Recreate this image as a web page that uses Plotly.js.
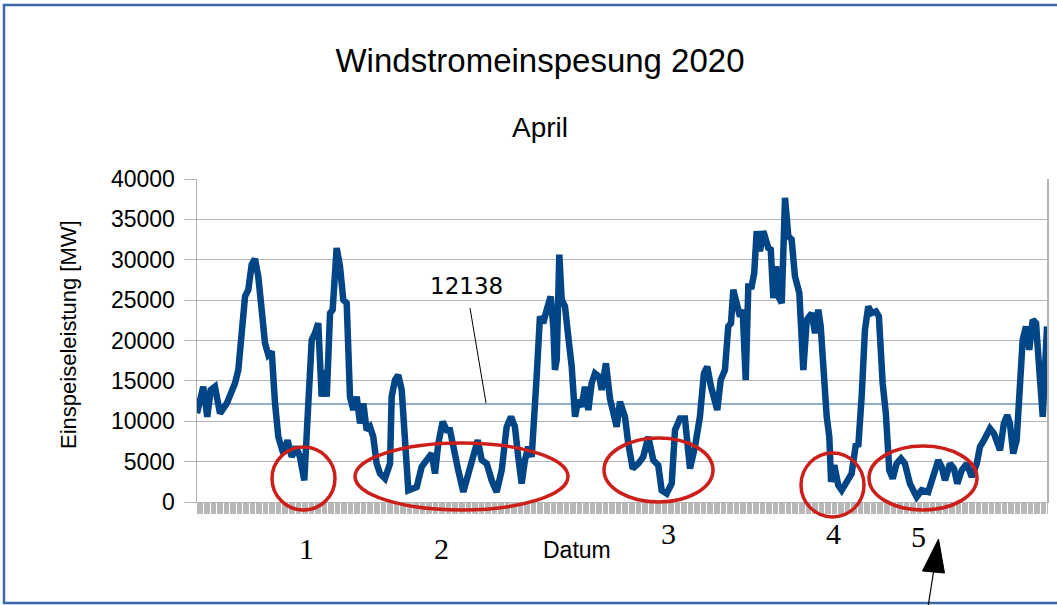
<!DOCTYPE html>
<html><head><meta charset="utf-8">
<script src="https://cdn.plot.ly/plotly-3.0.1.min.js"></script>
<style>html,body{margin:0;padding:0;background:#fff}#chart{width:1057px;height:605px}</style>
</head><body><div id="chart"></div>
<script>
// Stunden seit 1. April 00:00
const hours = [0,5.3,8.7,11.6,15.2,19.5,25.2,29.4,32.2,35.0,37.9,40.7,43.5,46.3,49.1,51.9,54.8,57.6,60.4,63.3,66.1,68.9,73.1,76.8,80.2,83.9,87.2,90.9,94.3,97.2,99.9,102.7,105.6,107.8,109.9,112.7,114.9,118.3,121.1,123.9,126.8,129.6,132.4,135.3,138.1,140.9,143.7,146.5,149.3,152.2,155.0,159.2,163.5,164.9,167.7,170.5,173.4,176.2,179.0,
186.1,190.3,194.5,198.8,201.6,204.4,208.1,211.5,214.3,217.1,221.3,225.6,229.8,234.0,237.8,241.2,245.4,249.6,253.8,258.1,262.3,266.0,269.3,272.1,275.0,277.8,280.6,283.5,284.8,287.7,290.5,293.3,296.2,299.6,301.8,303.2,304.7,306.9,308.9,311.7,314.5,317.4,320.2,323.0,325.8,328.6,331.5,334.3,337.1,340.8,342.8,346.4,349.8,352.6,355.5,358.3,
362.5,365.3,369.1,373.8,378.0,382.3,386.5,390.7,393.6,397.8,402.1,404.9,409.1,413.3,417.6,421.8,426.0,429.4,432.2,435.4,437.3,440.7,443.6,447.2,450.0,452.3,454.3,457.1,459.9,462.2,464.8,467.0,469.8,472.0,474.1,476.9,479.7,483.9,486.0,488.2,490.5,492.4,495.3,498.1,500.9,503.7,506.5,510.2,513.6,516.5,520.7,523.5,526.3,
528.3,530.5,533.4,535.6,537.1,539.8,543.2,546.1,550.3,554.5,558.2,560.1,563.0,565.8,568.6,571.4,575.1,577.6,580.8,583.5,586.4,589.3,592.6,596.3,599.6,603.9,609.6,613.8,619.4,623.7,627.9,630.8,633.6,637.8,641.2,644.0,647.8,652.0,656.3,660.5,663.2,666.6,671.7,675.1,677.3,680.2,683.5,686.3,688.6,691.4,694.3,697.1,699.4,702.2,705.0,707.9,710.7,713.5,716.4,720];
// Einspeiseleistung in MW
const mw = [11000,14280,10560,13870,14280,10970,12210,13450,14700,16350,21320,25460,26290,29390,30100,27950,23800,19670,18220,18630,12210,8070,6000,7660,5590,6830,5590,2690,12210,20080,20900,22150,13040,16350,13040,23390,23800,31460,29190,25050,24630,13040,11390,13040,9730,12210,8900,9310,8070,4760,3520,2900,4760,13040,15110,15730,13870,6000,1450,
1860,4350,5180,6000,3520,7250,9940,8900,8900,6420,3930,1240,3520,5180,7660,5180,4760,2690,1240,3930,9310,10560,9310,5590,2280,5180,6830,5590,8070,15520,22980,22150,23800,25460,21740,16350,17600,30640,25050,24220,20490,16770,10560,12630,11800,14280,11390,14700,15940,15520,13870,17180,12800,11390,9310,12420,
10560,7250,4140,4760,5590,8070,5180,4550,1450,1040,2280,8900,10350,10350,4140,6830,10560,15940,16770,14280,13460,11390,15110,16350,21740,22150,26290,24630,22980,23800,15110,26700,26700,28360,33530,31050,33530,31460,31260,25250,29190,25460,24630,37670,32910,32500,27950,25870,16350,22560,23390,20900,23800,
21740,15520,10560,8070,2480,4550,2070,1450,2480,3520,7250,6830,13040,21320,24220,23390,23600,22980,14700,10970,3930,2900,4760,5380,4760,2280,620,1450,1240,3100,5180,4350,2690,4760,4140,2280,3930,4760,3100,4760,6830,7660,9110,8480,7660,6420,9730,10760,9730,6000,7660,15520,20080,21740,18840,22560,22150,16350,10560,21740];
const meanValue = 12138;
const meanLabel = '12138';
const yTicks = [0,5000,10000,15000,20000,25000,30000,35000,40000];
const hourRange = [0,720];
const lowLabels = ['1','2','3','4','5'];
const titleText = 'Windstromeinspesung 2020';
const subtitleText = 'April';
const xTitle = 'Datum';
const yTitle = 'Einspeiseleistung [MW]';

// figure geometry (pixels -> paper)
const W=1057,H=605,L=197,R=10,T=179,B=103;
const pw=W-L-R, ph=H-T-B;
const px = x => (x-L)/pw;
const py = y => (H-B-y)/ph;

const red='#cc1f1a';
function ellipse(x0,y0,x1,y1){return {type:'circle',xref:'paper',yref:'paper',x0:px(x0),x1:px(x1),y0:py(y1),y1:py(y0),line:{color:red,width:3.5},layer:'above'};}
function seg(x0,y0,x1,y1,c,w){return {type:'line',xref:'paper',yref:'paper',x0:px(x0),y0:py(y0),x1:px(x1),y1:py(y1),line:{color:c,width:w},layer:'above'};}

const shapes=[
  // outer frame
  {type:'rect',xref:'paper',yref:'paper',x0:px(4),x1:px(1070),y0:py(603),y1:py(5),line:{color:'#3a69a8',width:2.5},layer:'above'},
  ellipse(272,447,335,510),
  ellipse(355,443,568,510),
  ellipse(604,438,713,502),
  ellipse(801,453,864,517),
  ellipse(869,446,977,510),
  seg(470,308,486,403,'#000',1),
  seg(928,607,933.5,572,'#000',1.2),
  {type:'path',xref:'paper',yref:'paper',path:`M ${px(938.5)} ${py(539)} L ${px(922.5)} ${py(571)} L ${px(944.5)} ${py(573)} Z`,fillcolor:'#000',line:{color:'#000',width:1},layer:'above'}
];

const numPos=[[306,548],[441,548],[668,533],[833,533],[918,536]];
const annotations=[
  {text:subtitleText,xref:'paper',yref:'paper',x:px(540),y:py(128),showarrow:false,xanchor:'center',yanchor:'middle',font:{family:'Liberation Sans',size:28,color:'#000'}},
  {text:yTitle,xref:'paper',yref:'paper',x:px(68),y:py(335),textangle:-90,showarrow:false,xanchor:'center',yanchor:'middle',font:{family:'Liberation Sans',size:22,color:'#000'}},
  {text:xTitle,xref:'paper',yref:'paper',x:px(577),y:py(550),showarrow:false,xanchor:'center',yanchor:'middle',font:{family:'Liberation Sans',size:23,color:'#000'}},
  {text:meanLabel,xref:'paper',yref:'paper',x:px(466),y:py(286),showarrow:false,xanchor:'center',yanchor:'middle',font:{family:'DejaVu Sans',size:23,color:'#000'}}
].concat(lowLabels.map((t,i)=>({text:t,xref:'paper',yref:'paper',x:px(numPos[i][0]),y:py(numPos[i][1]),showarrow:false,xanchor:'center',yanchor:'middle',font:{family:'Liberation Serif',size:30,color:'#000'}})));

const traces=[
  {x:hourRange,y:[meanValue,meanValue],type:'scatter',mode:'lines',line:{color:'#6f95c0',width:1.5},hoverinfo:'skip',showlegend:false},
  {x:hours,y:mw,type:'scatter',mode:'lines',line:{color:'#004586',width:6.5},showlegend:false}
];

const layout={
  width:W,height:H,margin:{l:L,r:R,t:T,b:B,pad:0},
  paper_bgcolor:'#fff',plot_bgcolor:'#fff',
  font:{family:'Liberation Sans',color:'#000'},
  title:{text:titleText,x:px(540),xref:'paper',xanchor:'center',y:1-60/H,yref:'container',yanchor:'middle',font:{family:'Liberation Sans',size:33,color:'#000'}},
  xaxis:{range:hourRange,showgrid:false,zeroline:false,showline:true,linecolor:'#b3b3b3',linewidth:1,ticks:'outside',tickmode:'linear',tick0:0,dtick:1,ticklen:11,tickwidth:1,tickcolor:'#b8b8b8',showticklabels:false,fixedrange:true},
  yaxis:{range:[0,40000],tickmode:'array',tickvals:yTicks,ticktext:yTicks.map(String),showgrid:true,gridcolor:'#b3b3b3',gridwidth:1,zeroline:false,showline:true,mirror:true,linecolor:'#b3b3b3',linewidth:1.5,ticks:'outside',ticklen:12,tickcolor:'#b3b3b3',ticklabelstandoff:4,tickfont:{family:'Liberation Sans',size:23,color:'#000'},fixedrange:true},
  shapes:shapes,annotations:annotations,showlegend:false
};
Plotly.newPlot('chart',traces,layout,{displayModeBar:false,staticPlot:true});
</script></body></html>
